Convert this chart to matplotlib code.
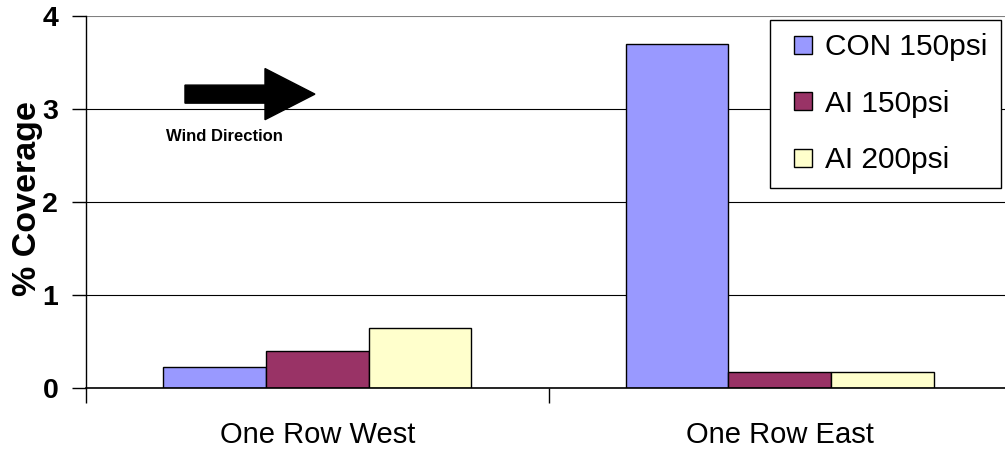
#!/usr/bin/env python3
# -*- coding: utf-8 -*-

import matplotlib
matplotlib.use("Agg")
import matplotlib.pyplot as plt
from matplotlib.legend_handler import HandlerPatch
from matplotlib.patches import Rectangle
import numpy as np

categories = ["One Row West", "One Row East"]
series_names = ["CON 150psi", "AI 150psi", "AI 200psi"]
con_150 = [0.23, 3.70]
ai_150 = [0.40, 0.17]
ai_200 = [0.65, 0.17]
y_ticks = [0, 1, 2, 3, 4]
colors = ["#9999FF", "#993366", "#FFFFCC"]


def square(legend, orig_handle, xdescent, ydescent, width, height, fontsize):
    # cuadrado pegado al lado derecho del hueco del handle
    return Rectangle((-xdescent + width - height, -ydescent), height, height)


def main():
    plt.rcParams["font.family"] = ["Liberation Sans", "DejaVu Sans"]

    fig = plt.figure(figsize=(10.05, 4.53), dpi=100)
    ax = fig.add_axes([86 / 1005, 65 / 453, 925 / 1005, 372 / 453])

    x = np.arange(len(categories))
    width = 0.222
    values = [con_150, ai_150, ai_200]
    bars = []
    for i, (vals, name, c) in enumerate(zip(values, series_names, colors)):
        b = ax.bar(x + (i - 1) * width, vals, width, color=c, edgecolor="black",
                   linewidth=1, label=name, zorder=3)
        bars.append(b)

    ax.set_xlim(-0.5, 1.5)
    ax.set_ylim(0, 4)
    ax.set_yticks(y_ticks)
    ax.set_yticklabels([str(t) for t in y_ticks], fontweight="bold", fontsize=20.5)
    ax.set_xticks(x)
    ax.set_xticklabels(categories, fontsize=21)
    ax.tick_params(axis="x", which="major", length=0, pad=24)
    ax.set_xticks([-0.5, 0.5, 1.5], minor=True)
    ax.tick_params(axis="x", which="minor", length=11, width=1)
    ax.tick_params(axis="y", length=10, width=1, pad=10)
    ax.set_ylabel("% Coverage", fontsize=24.5, fontweight="bold")
    ax.yaxis.set_label_coords(-0.047, 0.51)

    ax.grid(True, axis="y", color="black", linewidth=0.8, zorder=0)
    ax.get_ygridlines()[-1].set_color("#808080")
    for s in ["top", "right"]:
        ax.spines[s].set_visible(False)
    ax.spines["left"].set_linewidth(1)
    ax.spines["bottom"].set_linewidth(1.2)
    ax.spines["left"].set_zorder(4)
    ax.spines["bottom"].set_zorder(4)

    # flecha del viento
    ax.arrow(-0.286, 3.16, 0.281, 0, width=0.194, head_width=0.55,
             head_length=0.108, length_includes_head=True, color="black",
             zorder=5)
    ax.text(-0.201, 2.70, "Wind Direction", fontsize=12, fontweight="bold",
            ha="center", va="center")

    legend = ax.legend([b[0] for b in bars], series_names,
                       loc="upper left", bbox_to_anchor=(770 / 1005, 1 - 20 / 453),
                       bbox_transform=fig.transFigure, fontsize=21.5,
                       frameon=True, fancybox=False, framealpha=1,
                       borderaxespad=0, borderpad=0.45, labelspacing=0.95,
                       handlelength=0.95, handleheight=0.55, handletextpad=0.45,
                       handler_map={Rectangle: HandlerPatch(patch_func=square)})
    frame = legend.get_frame()
    frame.set_edgecolor("black")
    frame.set_linewidth(1)

    fig.savefig("out.png", dpi=100)


if __name__ == '__main__':
    main()
